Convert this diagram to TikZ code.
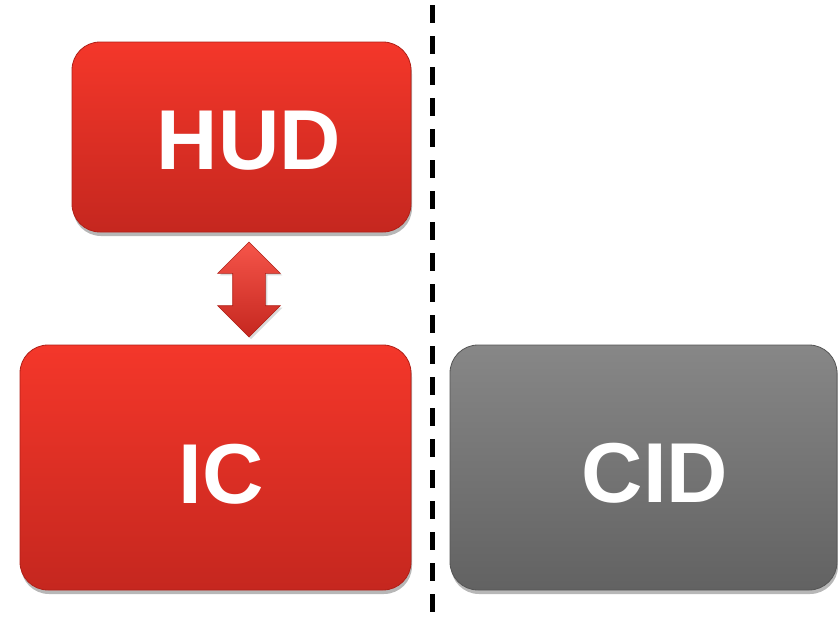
\documentclass[tikz,border=0pt]{standalone}
\usepackage{fontspec}
\setmainfont{Liberation Sans}
\usetikzlibrary{shadows,shapes.arrows,calc}
\definecolor{redtop}{HTML}{F4372A}
\definecolor{redbot}{HTML}{C5271F}
\definecolor{redline}{HTML}{B02018}
\definecolor{greytop}{HTML}{878787}
\definecolor{greybot}{HTML}{626262}
\definecolor{greyline}{HTML}{555555}
\tikzset{
  panel/.style={rounded corners=28pt, inner sep=0pt, line width=0.8pt,
    drop shadow={shadow xshift=1pt, shadow yshift=-4pt, opacity=0.4, fill=black!70}},
  redpanel/.style={panel, draw=redline, top color=redtop, bottom color=redbot},
  greypanel/.style={panel, draw=greyline, top color=greytop, bottom color=greybot},
  caption/.style={text=white, font=\bfseries\fontsize{85}{85}\selectfont, inner sep=0pt},
  divider/.style={line width=5pt, dash pattern=on 18pt off 13pt},
}
\begin{document}
\begin{tikzpicture}[x=1pt, y=-1pt]
  \useasboundingbox (0,0) rectangle (838,619);
  % boxes
  \node[redpanel, minimum width=339pt, minimum height=190pt] (hud) at (241.5,137) {};
  \node[redpanel, minimum width=391pt, minimum height=245pt] (ic) at (215.5,467.5) {};
  \node[greypanel, minimum width=387pt, minimum height=245pt] (cid) at (643.5,467.5) {};
  % captions
  \node[caption] (hudtext) at (249,141) {HUD};
  \node[caption] (ictext) at (221,474) {IC};
  \node[caption] (cidtext) at (655,473) {CID};
  % link between HUD and IC
  \node[double arrow, rotate=90, minimum height=95pt, minimum width=62pt,
        inner sep=16pt, double arrow head extend=15pt, line width=0.6pt,
        draw=redline, top color=redtop!85!white, bottom color=redbot,
        drop shadow={shadow xshift=2pt, shadow yshift=-2pt, opacity=0.3}]
        (link) at ($(hud.south)!0.5!(ic.north)+(20.5,1)$) {};
  % divider
  \coordinate (dtop) at (432,5);
  \coordinate (dbot) at (432,619);
  \draw[divider] (dtop) -- (dbot);
\end{tikzpicture}
\end{document}
